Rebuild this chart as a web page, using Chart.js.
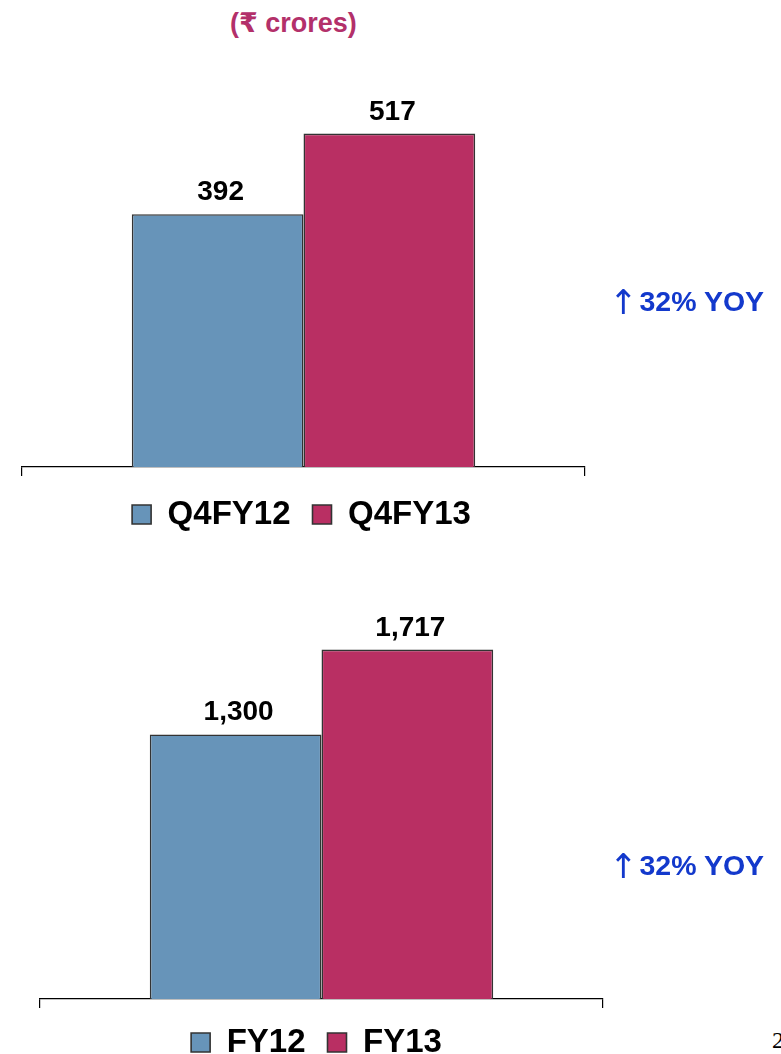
<!DOCTYPE html>
<html>
<head>
<meta charset="utf-8">
<script src="https://cdn.jsdelivr.net/npm/chart.js@4/dist/chart.umd.min.js"></script>
<style>
  body { margin: 0; background: #fff; width: 781px; height: 1054px; overflow: hidden; position: relative;
         font-family: "Liberation Sans", Arial, "DejaVu Sans", sans-serif; }
  .box { position: absolute; }
  #title { position: absolute; left: 230px; top: 7px; font-size: 27px; font-weight: bold; color: #b3306a; white-space: nowrap; }
  .yoy { position: absolute; left: 609px; font-size: 28.5px; line-height: 34px; font-weight: bold; color: #1339cc; white-space: nowrap; }
  .yoy .arr { font-weight: normal; font-family: "DejaVu Sans", sans-serif; font-size: 34px; margin-right: 2px; vertical-align: -3px; }
  #yoy1 { top: 284px; }
  #yoy2 { top: 848px; }
  #page { position: absolute; left: 772px; top: 1027px; font-family: "Liberation Serif", serif; font-size: 24px; color: #000; }
</style>
</head>
<body>
<div id="title">(₹ crores)</div>
<div class="box" style="left:0;top:50px;width:610px;height:491px"><canvas id="quarterChart"></canvas></div>
<div class="box" style="left:0;top:560px;width:630px;height:513px"><canvas id="yearChart"></canvas></div>
<div class="yoy" id="yoy1"><span class="arr">↑</span>32% YOY</div>
<div class="yoy" id="yoy2"><span class="arr">↑</span>32% YOY</div>
<div id="page">2</div>

<script>
// data
const quarterLabels = ['Q4FY12', 'Q4FY13'];
const quarterValues = [392, 517];
const yearLabels = ['FY12', 'FY13'];
const yearValues = [1300, 1717];
const barColors = ['#6794b9', '#b92f63'];

// draws the number above each bar, like the datalabels plugin would
const valueLabels = {
  id: 'valueLabels',
  afterDatasetsDraw(chart) {
    const ctx = chart.ctx;
    ctx.save();
    ctx.font = 'bold 28px "Liberation Sans", Arial, sans-serif';
    ctx.fillStyle = '#000';
    ctx.textAlign = 'center';
    ctx.textBaseline = 'alphabetic';
    chart.data.datasets.forEach((ds, i) => {
      chart.getDatasetMeta(i).data.forEach((bar, j) => {
        ctx.fillText(ds.data[j].toLocaleString('en'), bar.x + 3, bar.y - 14);
      });
    });
    ctx.restore();
  }
};

// small nudge of the legend box to line it up with the slide
const legendShift = {
  id: 'legendShift',
  afterLayout(chart, args, opts) {
    const dx = opts.dx || 0, dy = opts.dy || 0;
    chart.legend.left += dx;
    chart.legend.right += dx;
    chart.legend.top += dy;
    chart.legend.bottom += dy;
  }
};

function makeChart(id, labels, values, yMax, pad, dx, dy) {
  return new Chart(document.getElementById(id), {
    type: 'bar',
    data: {
      labels: [''],
      datasets: labels.map((l, i) => ({
        label: l,
        data: [values[i]],
        backgroundColor: barColors[i],
        borderColor: '#333',
        borderWidth: 1.6
      }))
    },
    options: {
      responsive: true,
      maintainAspectRatio: false,
      animation: false,
      layout: { padding: pad },
      datasets: { bar: { barPercentage: 1, categoryPercentage: 0.61 } },
      scales: {
        x: {
          border: { color: '#000', width: 1.2 },
          grid: { drawOnChartArea: false, color: '#000', tickLength: 9, lineWidth: 1.2 },
          ticks: { display: false }
        },
        y: { display: false, min: 0, max: yMax }
      },
      plugins: {
        tooltip: { enabled: false },
        legendShift: { dx: dx, dy: dy },
        legend: {
          position: 'bottom',
          labels: {
            color: '#000',
            boxWidth: 19,
            boxHeight: 19,
            padding: 22,
            font: { size: 33, weight: 'bold', family: '"Liberation Sans", Arial, sans-serif' }
          }
        }
      }
    },
    plugins: [valueLabels, legendShift]
  });
}

makeChart('quarterChart', quarterLabels, quarterValues, 600, { top: 30, left: 22, right: 25, bottom: 0 }, -2, 0);
makeChart('yearChart', yearLabels, yearValues, 2000, { top: 32, left: 40, right: 27, bottom: 0 }, -5, -4);
</script>
</body>
</html>
